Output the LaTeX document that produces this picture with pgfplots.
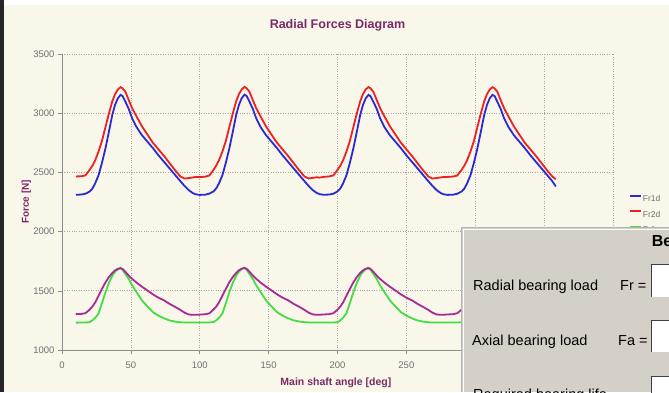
\documentclass[border=0pt]{standalone}
\usepackage{fontspec}
\setmainfont{Liberation Sans}
\usepackage{pgfplots}
\usepackage{pgfplotstable}
\pgfplotsset{compat=1.18}
\usetikzlibrary{backgrounds}
\definecolor{bgc}{HTML}{F9F6EA}
\definecolor{ttl}{HTML}{7A2A66}
\definecolor{axg}{HTML}{8C8C8C}
\definecolor{grg}{HTML}{A8A8A0}
\definecolor{tkt}{HTML}{707070}
\definecolor{cblue}{HTML}{2A2AD2}
\definecolor{cred}{HTML}{EC2222}
\definecolor{cgreen}{HTML}{44DD44}
\definecolor{cpurp}{HTML}{A82A94}
\definecolor{dlg}{HTML}{D4D0C8}

\pgfplotstableread{
a b r p g
10 2311 2466 1303 1231
14 2313 2467 1305 1232
17 2320 2475 1311 1232
20 2338 2520 1340 1235
22 2362 2555 1365 1250
24 2405 2600 1400 1270
26.5 2475 2675 1458 1308
29 2580 2765 1515 1395
31.5 2700 2880 1570 1486
34 2840 2995 1615 1565
36.5 2985 3100 1650 1627
38.5 3070 3160 1672 1660
40.5 3125 3200 1685 1682
42.5 3155 3220 1692 1690
44 3145 3210 1684 1676
46 3098 3182 1660 1642
48.5 3035 3110 1628 1600
51 2955 3040 1600 1545
54 2885 2975 1570 1490
58 2815 2890 1535 1420
62 2760 2820 1503 1368
66 2705 2750 1470 1320
70 2645 2695 1442 1290
74 2590 2640 1420 1268
78 2535 2580 1390 1250
82 2480 2520 1365 1240
86 2425 2465 1338 1234
89 2385 2448 1315 1232
92 2350 2452 1300 1232
95 2325 2457 1297 1232
97 2315 2462 1298 1232
100 2310 2460 1299 1232
104 2312 2464 1302 1232
107 2321 2474 1310 1233
110 2340 2522 1342 1236
112 2365 2558 1367 1251
114 2408 2603 1402 1272
116.5 2478 2678 1460 1310
119 2584 2768 1517 1398
121.5 2704 2884 1572 1489
124 2844 2998 1617 1567
126.5 2988 3103 1652 1629
128.5 3072 3162 1674 1662
130.5 3128 3202 1687 1684
132.5 3157 3222 1694 1692
134 3146 3211 1686 1678
136 3100 3183 1662 1644
138.5 3037 3112 1629 1601
141 2957 3042 1601 1546
144 2886 2976 1571 1491
148 2816 2891 1536 1421
152 2761 2821 1504 1369
156 2706 2752 1471 1321
160 2646 2696 1443 1291
164 2591 2641 1421 1269
168 2536 2581 1391 1251
172 2481 2521 1366 1241
176 2426 2466 1339 1235
179 2386 2449 1316 1233
182 2351 2454 1301 1233
185 2326 2459 1297 1233
187 2316 2456 1298 1233
190 2311 2462 1300 1232
194 2313 2466 1303 1232
197 2320 2475 1311 1232
200 2339 2521 1341 1235
202 2363 2556 1366 1250
204 2406 2601 1401 1271
206.5 2476 2676 1459 1309
209 2582 2766 1516 1396
211.5 2702 2882 1571 1487
214 2842 2996 1616 1566
216.5 2986 3101 1651 1628
218.5 3070 3161 1673 1661
220.5 3126 3201 1686 1683
222.5 3155 3221 1693 1691
224 3144 3210 1685 1677
226 3097 3181 1661 1643
228.5 3036 3111 1628 1600
231 2955 3041 1600 1545
234 2884 2975 1570 1490
238 2814 2890 1535 1420
242 2760 2820 1503 1368
246 2705 2751 1470 1320
250 2645 2695 1442 1290
254 2590 2640 1420 1268
258 2535 2580 1390 1250
262 2480 2520 1365 1240
266 2425 2465 1338 1234
269 2385 2448 1315 1232
272 2350 2453 1300 1232
275 2325 2458 1297 1232
277 2315 2461 1298 1232
280 2310 2462 1300 1232
284 2312 2465 1303 1232
287 2320 2474 1311 1232
290 2338 2520 1340 1235
292 2362 2555 1365 1250
294 2405 2600 1400 1270
296.5 2475 2675 1458 1308
299 2580 2765 1515 1395
301.5 2700 2880 1570 1486
304 2840 2995 1615 1565
306.5 2985 3100 1650 1627
308.5 3070 3160 1672 1660
310.5 3125 3200 1685 1682
312.5 3155 3220 1692 1690
314 3145 3210 1684 1676
316 3098 3182 1660 1642
318.5 3035 3110 1628 1600
321 2955 3040 1600 1545
324 2885 2975 1570 1490
328 2815 2890 1535 1420
332 2760 2820 1503 1368
336 2705 2750 1470 1320
340 2645 2695 1442 1290
344 2590 2640 1420 1268
348 2535 2580 1390 1250
352 2480 2520 1365 1240
356 2425 2465 1338 1234
358.5 2382 2442 1318 1232
}\data

\begin{document}
\begin{tikzpicture}[x=1pt,y=1pt]
\begin{axis}[
  name=ax,
  scale only axis, width=551pt, height=296pt,
  xmin=0, xmax=400, ymin=1000, ymax=3500,
  xtick={0,50,...,400}, ytick={1000,1500,...,3500},
  axis x line*=bottom, axis y line*=left,
  axis line style={color=axg, line width=0.8pt},
  grid=major,
  major grid style={dotted, color=grg, line width=0.7pt},
  tick align=outside, major tick length=4pt,
  tick style={color=axg, line width=0.6pt},
  ticklabel style={font=\fontsize{9.5}{10}\selectfont, text=tkt},
  /pgf/number format/assume math mode=true,
  /pgf/number format/1000 sep={},
  xticklabel style={yshift=-4pt},
  title={Radial Forces Diagram},
  title style={at={(axis description cs:0.5,1.076)}, anchor=center, yshift=0pt, font=\bfseries\fontsize{12.5}{14}\selectfont, text=ttl},
  xlabel={Main shaft angle [deg]},
  xlabel style={at={(axis description cs:0.497,-0.11)}, anchor=center, font=\bfseries\fontsize{10.5}{12}\selectfont, text=ttl},
  ylabel={Force [N]},
  ylabel style={at={(axis description cs:-0.065,0.5)}, anchor=center, font=\bfseries\fontsize{10}{12}\selectfont, text=ttl},
  legend style={at={(axis description cs:1.024,0.532)}, anchor=north west, draw=none, fill=none,
    font=\fontsize{8.5}{9}\selectfont, text=tkt, row sep=8pt,
    nodes={inner sep=0.5pt, text height=6pt, text depth=0pt},
    /tikz/every even column/.append style={column sep=2pt}},
  legend cell align=left,
  legend image code/.code={\draw[#1, line width=2pt] (0pt,3pt) -- (11pt,3pt);},
]
\addplot[cblue, line width=1.8pt] table[x=a, y=b] {\data};
\addlegendentry{Fr1d}
\addplot[cred, line width=1.8pt] table[x=a, y=r] {\data};
\addlegendentry{Fr2d}
\addplot[cgreen, line width=1.8pt] table[x=a, y=g] {\data};
\addlegendentry{Fr1s}
\addplot[cpurp, line width=1.8pt] table[x=a, y=p] {\data};
\addlegendentry{Fr2s}
\coordinate (O) at (rel axis cs:0,0);
\end{axis}
\begin{scope}[on background layer]
\begin{scope}[shift={(O)}, xshift=-62pt, yshift=-42pt]
\fill[bgc] (0,0) rectangle (669,392);
\fill[white] (0,387) rectangle (669,392);
\fill[black!85] (0,0) rectangle (4.5,392);
\end{scope}
\end{scope}
% overlapping dialog window
\begin{scope}[shift={(O)}, xshift=-62pt, yshift=-42pt]
\clip (0,0) rectangle (669,392);
\fill[dlg] (461.7,0) rectangle (669,164.3);
\draw[gray!60, line width=1pt] (461.7,0) -- (461.7,164.3) -- (669,164.3);
\draw[white, line width=1pt] (463,0) -- (463,163) -- (669,163);
\node[anchor=base west, inner sep=0pt, font=\bfseries\fontsize{16}{18}\selectfont] at (651.7,145.3) {Bearing};
\node[anchor=base west, inner sep=0pt, font=\fontsize{14.5}{16}\selectfont] at (473,102) {Radial bearing load};
\node[anchor=base west, inner sep=0pt, font=\fontsize{14.5}{16}\selectfont] at (620,102) {Fr =};
\node[anchor=base west, inner sep=0pt, font=\fontsize{14.5}{16}\selectfont] at (472,47) {Axial bearing load};
\node[anchor=base west, inner sep=0pt, font=\fontsize{14.5}{16}\selectfont] at (618,47) {Fa =};
\node[anchor=base west, inner sep=0pt, font=\fontsize{14.5}{16}\selectfont] at (473,-7) {Required bearing life};
\foreach \yb/\yt in {95/128, 40.3/72, -20/15.3} {
  \fill[white] (651.7,\yb) rectangle (680,\yt);
  \draw[black!75, line width=1pt] (651.7,\yb) -- (651.7,\yt) -- (680,\yt);
}
\end{scope}
\pgfresetboundingbox
\path[shift={(O)}, xshift=-62pt, yshift=-42pt] (0,0) rectangle (669,392);
\end{tikzpicture}
\end{document}
